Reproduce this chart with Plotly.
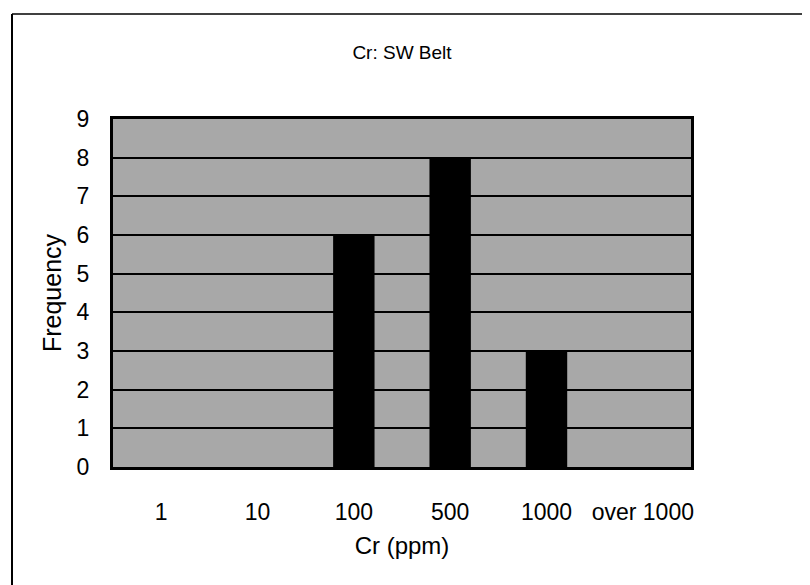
import plotly.graph_objects as go

# ヒストグラムのデータ
categories = ['1', '10', '100', '500', '1000', 'over 1000']
frequency = [0, 0, 6, 8, 3, 0]
y_ticks = [0, 1, 2, 3, 4, 5, 6, 7, 8, 9]

fig = go.Figure()
fig.add_trace(go.Bar(
    x=categories,
    y=frequency,
    marker=dict(color='black', line=dict(color='black', width=0)),
    width=0.43,
))

# ページには body の余白 8px があるので、その分を引いておく
W, H = 810, 585
L, T = 105, 111
pw, ph = 578, 348
R, B = W - L - pw, H - T - ph

# 外枠 (上と左の線)
fx, fy = 4, 6
fig.add_shape(type='line', xref='paper', yref='paper',
              x0=(fx - L) / pw, x1=(W - L) / pw,
              y0=(T + ph - fy) / ph, y1=(T + ph - fy) / ph,
              line=dict(color='black', width=1.5))
fig.add_shape(type='line', xref='paper', yref='paper',
              x0=(fx - L) / pw, x1=(fx - L) / pw,
              y0=(T + ph - fy) / ph, y1=-B / ph,
              line=dict(color='black', width=2))

fig.update_layout(
    width=W, height=H,
    margin=dict(l=L, r=R, t=T, b=B),
    paper_bgcolor='white',
    plot_bgcolor='#a8a8a8',
    font=dict(family='Liberation Sans, Arial', color='black'),
    title=dict(text='Cr: SW Belt', x=(L + pw / 2) / W, xanchor='center',
               y=1 - 44 / H, yanchor='middle', font=dict(size=19)),
    showlegend=False,
    xaxis=dict(
        title=dict(text='Cr (ppm)', font=dict(size=24), standoff=14),
        tickfont=dict(size=23),
        showgrid=False,
        showline=True, linecolor='black', linewidth=3, mirror=True,
        ticks='', ticklabelstandoff=22,
    ),
    yaxis=dict(
        title=dict(text='Frequency', font=dict(size=25), standoff=8),
        range=[0, 9],
        tickvals=y_ticks,
        tickfont=dict(size=23),
        showgrid=True, gridcolor='black', gridwidth=1.5,
        showline=True, linecolor='black', linewidth=3, mirror=True,
        ticks='', zeroline=False, ticklabelstandoff=16,
    ),
)

fig.write_html("out.html")
